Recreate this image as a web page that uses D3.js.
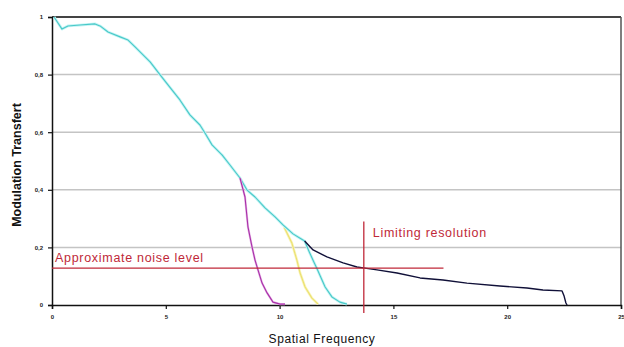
<!DOCTYPE html>
<html><head><meta charset="utf-8">
<script src="https://cdn.jsdelivr.net/npm/d3@7"></script>
<style>body{margin:0;background:#fff}svg{display:block}</style>
</head><body>
<svg id="c" width="624" height="347"></svg>
<script>
// ---- data ----
const xTicks = [0, 5, 10, 15, 20, 25];
const yTicks = [0, 0.2, 0.4, 0.6, 0.8, 1];
const cyanX = [0.09,0.44,0.70,1.23,1.89,2.11,2.46,2.99,3.34,3.65,4.31,4.75,5.27,5.62,6.06,6.50,6.72,7.03,7.47,7.82,8.26,8.57,8.92,9.36,9.80,10.15,10.59,10.90,11.10,11.30,11.50,11.65,11.80,12.00,12.30,12.65,12.96];
const cyanY = [1.0,0.958,0.969,0.972,0.976,0.969,0.948,0.931,0.920,0.896,0.844,0.799,0.747,0.712,0.660,0.625,0.597,0.556,0.521,0.486,0.441,0.399,0.375,0.337,0.306,0.278,0.247,0.232,0.222,0.185,0.150,0.125,0.098,0.0625,0.028,0.010,0.003];
const magX = [8.26,8.48,8.61,8.79,8.92,9.05,9.23,9.45,9.71,10.02,10.24];
const magY = [0.441,0.375,0.271,0.201,0.156,0.122,0.076,0.042,0.010,0.003,0.003];
const yelX = [10.20,10.54,10.76,10.90,11.12,11.42,11.69];
const yelY = [0.270,0.215,0.156,0.111,0.0625,0.024,0.003];
const navX = [11.10,11.47,12.08,12.79,13.40,13.75,14.28,15.16,16.17,17.18,18.23,19.68,20.87,21.57,22.41,22.50,22.58,22.63];
const navY = [0.222,0.191,0.167,0.146,0.132,0.128,0.122,0.111,0.094,0.087,0.076,0.066,0.059,0.052,0.049,0.031,0.007,0];
const noiseLevel = 0.128, noiseEnd = 17.2;
const limitRes = 13.7, limitTop = 0.29, limitBottom = -0.028;
const labels = {y: "Modulation Transfert", x: "Spatial Frequency", noise: "Approximate noise level", limit: "Limiting resolution"};

// ---- chart ----
const svg = d3.select("#c");
const x = d3.scaleLinear().domain([0, 25]).range([52, 621]);
const y = d3.scaleLinear().domain([0, 1]).range([305, 17]);
const fmt = d => d === 0 ? "0" : d === 1 ? "1" : String(d).replace(".", ",");
const FONT = "Arial, Liberation Sans, sans-serif";

// gridlines
svg.append("g").selectAll("line").data(yTicks.filter(d => d > 0 && d < 1)).join("line")
  .attr("x1", x(0)).attr("x2", x(25)).attr("y1", d => y(d)).attr("y2", d => y(d))
  .attr("stroke", "#c4c4c4").attr("stroke-width", 1.5);

// top and right border
svg.append("line").attr("x1", x(0)).attr("x2", x(25)).attr("y1", y(1)).attr("y2", y(1)).attr("stroke", "#444").attr("stroke-width", 2);
svg.append("line").attr("x1", x(25)).attr("x2", x(25)).attr("y1", y(1)).attr("y2", y(0)).attr("stroke", "#555").attr("stroke-width", 1.5);

// axes
const yAxis = svg.append("g").attr("transform", `translate(${x(0)},0)`)
  .call(d3.axisLeft(y).tickValues(yTicks).tickFormat(fmt).tickSize(4).tickPadding(5));
const xAxis = svg.append("g").attr("transform", `translate(0,${y(0)})`)
  .call(d3.axisBottom(x).tickValues(xTicks).tickFormat(d => d).tickSize(4).tickPadding(6));
[yAxis, xAxis].forEach(a => {
  a.select(".domain").attr("stroke", "#111").attr("stroke-width", 1.5);
  a.selectAll(".tick line").attr("stroke", "#111").attr("stroke-width", 1.2);
  a.selectAll("text").attr("font-family", FONT).attr("font-size", 6).attr("font-weight", "bold").attr("fill", "#222");
});

const zip = (a, b) => a.map((v, i) => [v, b[i]]);
const lineY = d3.line().x(d => x(d[0])).y(d => y(d[1])).curve(d3.curveLinear);
function draw(xs, ys, halo, haloW, col, w) {
  if (halo) svg.append("path").datum(zip(xs, ys)).attr("d", lineY).attr("fill", "none").attr("stroke", halo).attr("stroke-width", haloW).attr("stroke-linejoin", "round");
  svg.append("path").datum(zip(xs, ys)).attr("d", lineY).attr("fill", "none").attr("stroke", col).attr("stroke-width", w).attr("stroke-linejoin", "round");
}
draw(yelX, yelY, "#f8f4b8", 2.6, "#ece070", 1.1);
draw(cyanX, cyanY, "#c4f4f4", 2.8, "#48c8c8", 1.1);
draw(magX, magY, "#e8b8e8", 2.2, "#a830a8", 1.1);
draw(navX, navY, null, 0, "#101038", 1.4);

// red lines
svg.append("line").attr("x1", x(0)).attr("x2", x(noiseEnd)).attr("y1", y(noiseLevel)).attr("y2", y(noiseLevel)).attr("stroke", "#c02838").attr("stroke-width", 1.3);
svg.append("line").attr("x1", x(limitRes)).attr("x2", x(limitRes)).attr("y1", y(limitTop)).attr("y2", y(limitBottom)).attr("stroke", "#c02838").attr("stroke-width", 1.3);

svg.append("text").attr("x", x(0) + 3).attr("y", y(noiseLevel) - 6).text(labels.noise)
  .attr("font-family", FONT).attr("font-size", 12.5).attr("letter-spacing", 0.7).attr("fill", "#c02838");
svg.append("text").attr("x", x(limitRes) + 9).attr("y", y(limitTop) + 16).text(labels.limit)
  .attr("font-family", FONT).attr("font-size", 12.5).attr("letter-spacing", 0.7).attr("fill", "#c02838");

// titles
svg.append("text").attr("transform", `translate(21,165) rotate(-90)`).attr("text-anchor", "middle")
  .text(labels.y).attr("font-family", FONT).attr("font-size", 12.5).attr("font-weight", "bold").attr("fill", "#111");
svg.append("text").attr("x", 322).attr("y", 343).attr("text-anchor", "middle")
  .text(labels.x).attr("font-family", FONT).attr("font-size", 12).attr("letter-spacing", 0.6).attr("fill", "#111");
</script>
</body></html>
